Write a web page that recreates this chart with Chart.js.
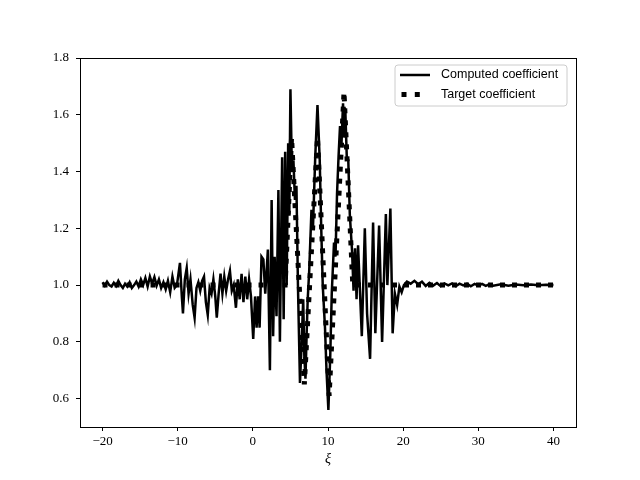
<!DOCTYPE html>
<html>
<head>
<meta charset="utf-8">
<script src="https://cdn.jsdelivr.net/npm/chart.js@4.4.0/dist/chart.umd.min.js"></script>
<style>
body { margin: 0; background: #fff; }
</style>
</head>
<body>
<canvas id="myChart" width="640" height="480"></canvas>
<script>
// computed coefficient
var compX = [-20, -19.7, -19.4, -19.1, -18.8, -18.5, -18.2, -17.9, -17.6, -17.3, -17.0, -16.7, -16.4, -16.1, -15.8, -15.5,
    -15.2, -14.9, -14.6, -14.3, -14.0, -13.7, -13.4, -13.1, -12.8, -12.5, -12.2, -11.9, -11.6, -11.3, -11.0, -10.7, -10.4,
    -10.1, -9.7, -9.45, -9.3, -9.05, -8.8, -8.55, -8.3, -8.0, -7.75, -7.5, -7.25, -7.0, -6.75, -6.5, -6.25, -6.0, -5.75,
    -5.5, -5.25, -5.0, -4.8, -4.55, -4.3, -4.05, -3.8, -3.55, -3.3, -3.05, -2.8, -2.55, -2.25, -2.0, -1.75, -1.5, -1.25,
    -1.0, -0.75, -0.5, -0.25, 0.05, 0.3, 0.5, 0.7, 0.9, 1.15, 1.4, 1.65, 2.0, 2.27, 2.5, 2.7, 2.9, 3.15, 3.4, 3.6, 3.9,
    4.1, 4.3, 4.5, 4.7, 4.85, 5.0, 5.2, 5.4, 5.6, 5.8, 6.0, 6.27, 6.5, 6.7, 6.85, 7.0, 7.15, 7.3, 7.5, 7.8, 8.0, 8.3, 8.6,
    8.9, 9.1, 9.3, 9.6, 9.8, 10.05, 10.3, 10.5, 10.8, 11.0, 11.2, 11.4, 11.6, 11.8, 12.0, 12.15, 12.3, 12.5, 12.7, 12.9,
    13.2, 13.4, 13.6, 13.8, 14.0, 14.5, 14.9, 15.2, 15.6, 16.0, 16.3, 16.8, 17.2, 17.7, 17.9, 18.3, 18.6, 18.9, 19.2, 19.5,
    19.8, 20.1, 20.5, 21.0, 21.5, 22.0, 22.5, 23.0, 23.5, 24.0, 24.5, 25.0, 25.5, 26.0, 26.5, 27.0, 27.5, 28.0, 28.5, 29.0,
    29.5, 30.0, 30.5, 31.0, 31.5, 32, 33, 34, 35, 36, 37, 38, 39, 40];
var compY = [1.01, 0.998, 1.012, 1.0, 0.995, 1.008, 0.997, 1.015, 1.0, 0.99, 1.005, 0.995, 1.01, 0.99, 1.0, 1.012,
    0.995, 1.02, 1.0, 1.025, 0.995, 1.03, 1.005, 1.028, 0.998, 1.02, 0.99, 1.01, 0.985, 1.015, 0.975, 1.03, 0.99,
    1.0, 1.078, 0.96, 0.90, 1.02, 1.06, 0.97, 1.02, 0.93, 0.885, 0.99, 1.01, 0.98, 1.015, 1.03, 0.94, 0.895, 0.99,
    0.97, 1.02, 0.96, 0.885, 0.97, 1.04, 0.97, 1.03, 0.98, 1.02, 1.05, 0.98, 1.0, 0.92, 1.02, 0.95, 1.04, 0.94,
    1.03, 0.95, 1.02, 0.96, 0.81, 0.96, 0.85, 0.96, 0.85, 1.10, 1.09, 0.97, 1.125, 0.70, 1.30, 0.82, 1.10, 0.89, 1.335, 0.80, 1.45,
    0.88, 1.47, 1.00, 1.50, 1.25, 1.69, 1.40, 1.44, 1.30, 1.35, 1.00, 0.655, 0.80, 0.95, 0.75, 0.67, 0.82, 0.95, 1.05, 1.265, 1.20, 1.45, 1.634,
    1.44, 1.20, 1.00, 0.85, 0.70, 0.56, 0.75, 0.97, 1.15, 1.10, 1.32, 1.45, 1.56, 1.50, 1.64, 1.52, 1.62, 1.45, 1.44, 1.25,
    1.12, 0.98, 1.13, 0.95, 1.14, 0.82, 1.20, 0.90, 0.74, 1.22, 0.83, 1.21, 0.80, 1.25, 1.00, 1.27, 0.83, 0.97, 0.93, 0.995,
    0.975, 1.0, 1.012, 1.005, 1.015, 1.003, 1.012, 0.997, 1.008, 0.998, 1.007, 0.996, 1.006, 0.999, 1.006, 0.996, 1.005, 0.999, 1.005, 0.996,
    1.004, 0.998, 1.004, 0.997, 1.003, 0.998, 1.003, 0.998, 1.002, 0.999, 1.002, 0.999, 1.001, 1.0];

// target coefficient
var targetX = [-20, 4.3, 5.15, 6.85, 8.6, 10.15, 12.13, 13.3, 40];
var targetY = [1.0, 1.0, 1.52, 0.65, 1.52, 0.61, 1.68, 1.0, 1.0];

var xTicks = [-20, -10, 0, 10, 20, 30, 40];
var yTicks = [0.6, 0.8, 1.0, 1.2, 1.4, 1.6, 1.8];
var names = ["Computed coefficient", "Target coefficient"];

function pairs(xs, ys) {
    var out = [];
    for (var i = 0; i < xs.length; i++) out.push({x: xs[i], y: ys[i]});
    return out;
}

var tickFont = {family: "'Liberation Serif', 'DejaVu Serif', serif", size: 13};

// frame round the plot area, like matplotlib
var framePlugin = {
    id: 'frame',
    afterDatasetsDraw: function(chart) {
        var a = chart.chartArea, ctx = chart.ctx;
        ctx.save();
        ctx.strokeStyle = '#000';
        ctx.lineWidth = 1;
        ctx.strokeRect(Math.round(a.left) + 0.5, Math.round(a.top) + 0.5,
            Math.round(a.right - a.left), Math.round(a.bottom - a.top));
        ctx.restore();
    }
};

// legend box in the upper right corner
var legendPlugin = {
    id: 'boxLegend',
    afterDraw: function(chart) {
        var ctx = chart.ctx, a = chart.chartArea;
        var w = 172, h = 41;
        var x0 = a.right - 9 - w, y0 = a.top + 7;
        var r = 3;
        ctx.save();
        ctx.beginPath();
        ctx.moveTo(x0 + r, y0);
        ctx.lineTo(x0 + w - r, y0);
        ctx.arcTo(x0 + w, y0, x0 + w, y0 + r, r);
        ctx.lineTo(x0 + w, y0 + h - r);
        ctx.arcTo(x0 + w, y0 + h, x0 + w - r, y0 + h, r);
        ctx.lineTo(x0 + r, y0 + h);
        ctx.arcTo(x0, y0 + h, x0, y0 + h - r, r);
        ctx.lineTo(x0, y0 + r);
        ctx.arcTo(x0, y0, x0 + r, y0, r);
        ctx.closePath();
        ctx.fillStyle = 'rgba(255,255,255,0.8)';
        ctx.fill();
        ctx.strokeStyle = '#cccccc';
        ctx.lineWidth = 1;
        ctx.stroke();

        var ds = chart.data.datasets;
        for (var i = 0; i < ds.length; i++) {
            var yy = y0 + 10 + i * 19.5;
            ctx.beginPath();
            ctx.strokeStyle = '#000';
            ctx.lineWidth = ds[i].borderWidth;
            if (ds[i].borderDash) {
                // two squares, as in the reference handle
                ctx.setLineDash([5, 8.3]);
                ctx.moveTo(x0 + 6.5, yy);
                ctx.lineTo(x0 + 25, yy);
            } else {
                ctx.setLineDash([]);
                ctx.moveTo(x0 + 5, yy);
                ctx.lineTo(x0 + 35, yy);
            }
            ctx.stroke();
            ctx.setLineDash([]);
            ctx.fillStyle = '#000';
            ctx.font = "12.5px 'Liberation Sans', 'DejaVu Sans', sans-serif";
            ctx.textBaseline = 'middle';
            ctx.fillText(ds[i].label, x0 + 46, yy);
        }
        ctx.restore();
    }
};

new Chart("myChart", {
    type: "line",
    data: {
        datasets: [{
            label: names[0],
            data: pairs(compX, compY),
            borderColor: '#000',
            borderWidth: 2.5,
            pointRadius: 0,
            tension: 0
        }, {
            label: names[1],
            data: pairs(targetX, targetY),
            borderColor: '#000',
            borderWidth: 5,
            borderDash: [5, 7],
            pointRadius: 0,
            tension: 0
        }]
    },
    options: {
        responsive: false,
        animation: false,
        events: [],
        layout: {padding: {top: 58, right: 64, left: 0, bottom: 0}},
        plugins: {
            legend: {display: false},
            tooltip: {enabled: false}
        },
        scales: {
            x: {
                type: 'linear',
                min: -23,
                max: 43,
                afterBuildTicks: function(s) { s.ticks = xTicks.map(function(v) { return {value: v}; }); },
                afterFit: function(s) { s.height = 53; },
                border: {display: false},
                grid: {display: true, drawOnChartArea: false, drawTicks: true, tickLength: 4, color: '#000'},
                ticks: {
                    color: '#000',
                    font: tickFont,
                    padding: 3,
                    maxRotation: 0,
                    callback: function(v) { return v < 0 ? '\u2212' + Math.abs(v) : String(v); }
                },
                title: {
                    display: true,
                    text: '\u03be',
                    color: '#000',
                    font: {family: "'Liberation Serif', 'DejaVu Serif', serif", size: 14, style: 'italic'},
                    padding: {top: 0, bottom: 12}
                }
            },
            y: {
                min: 0.5,
                max: 1.8,
                afterBuildTicks: function(s) { s.ticks = yTicks.map(function(v) { return {value: v}; }); },
                afterFit: function(s) { s.width = 80; },
                border: {display: false},
                grid: {display: true, drawOnChartArea: false, drawTicks: true, tickLength: 4, color: '#000'},
                ticks: {
                    color: '#000',
                    font: tickFont,
                    padding: 7,
                    callback: function(v) { return v.toFixed(1); }
                }
            }
        }
    },
    plugins: [framePlugin, legendPlugin]
});
</script>
</body>
</html>
